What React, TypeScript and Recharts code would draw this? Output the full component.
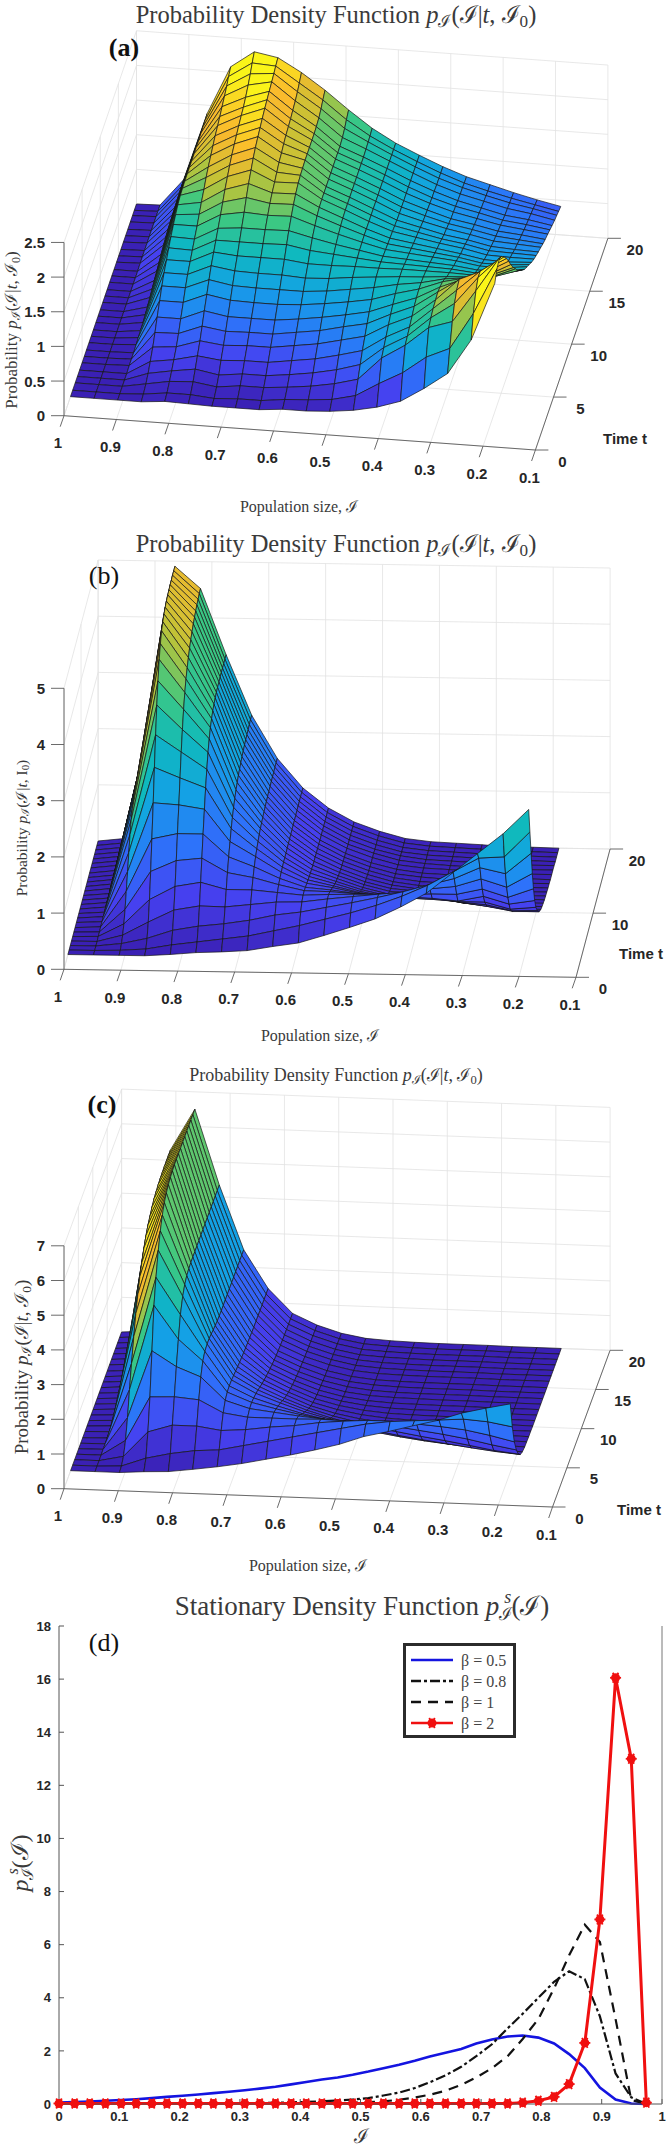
import React from "react";
import { ScatterChart, Scatter, LineChart, Line, XAxis, YAxis, Legend } from "recharts";

// population grid shared by the three surfaces, time grids
const popSizes = [1, 0.955, 0.91, 0.865, 0.82, 0.775, 0.73, 0.685, 0.64, 0.595, 0.55, 0.505, 0.46, 0.415, 0.37, 0.325, 0.28, 0.235, 0.19];
const timesA = [1.8, 2.4, 3.1, 3.7, 4.3, 5, 5.6, 6.2, 6.9, 7.5, 8.1, 8.8, 9.4, 10, 10.7, 11.3, 11.9, 12.6, 13.2, 13.8, 14.5, 15.1, 15.7, 16.4, 17, 17.6, 18.3, 18.9, 19.4, 20];
const timesB = [2.3, 3, 3.7, 4.4, 5.1, 5.8, 6.5, 7.3, 8, 8.7, 9.4, 10.1, 10.8, 11.5, 12.2, 12.9, 13.6, 14.3, 15, 15.8, 16.5, 17.2, 17.9, 18.6, 19.3, 20];

const iTicks = [1, 0.9, 0.8, 0.7, 0.6, 0.5, 0.4, 0.3, 0.2, 0.1];
const zTicksA = [0, 0.5, 1, 1.5, 2, 2.5];
const zTicksB = [0, 1, 2, 3, 4, 5];
const zTicksC = [0, 1, 2, 3, 4, 5, 6, 7];
const tTicksA = [0, 5, 10, 15, 20];
const tTicksB = [0, 10, 20];

// surface heights x100, one list per population column, front to back in time
const surfaceA = [
  [0,0,0,0,0,0,0,0,0,0,0,0,0,0,0,0,0,0,0,0,0,0,0,0,0,0,0,0,0,0],
  [0,0,0,0,0,0,0,0,0,0,0,0,0,0,0,0,0,0,0,0,1,1,1,1,1,1,1,1,1,1],
  [0,0,0,0,0,1,1,1,2,3,4,5,7,9,12,15,18,21,24,27,30,32,34,35,36,37,38,39,39,40],
  [0,2,6,12,20,30,42,55,68,80,90,98,106,113,120,125,130,133,134,135,135,135,135,135,135,135,136,136,137,138],
  [3,6,12,18,25,33,43,55,68,80,90,98,105,112,120,128,136,144,152,158,164,169,174,178,182,187,192,197,203,208],
  [2,6,14,23,33,44,56,69,82,94,105,114,122,130,139,148,157,165,172,178,183,187,191,195,198,203,210,217,225,232],
  [1,3,9,17,29,40,51,63,76,88,100,111,122,133,145,157,168,177,185,191,196,200,204,208,211,214,217,220,223,226],
  [1,5,13,21,31,42,52,63,75,87,99,111,122,133,143,151,157,162,167,172,175,179,182,184,186,189,192,196,201,207],
  [1,5,13,21,31,42,52,63,75,87,99,111,123,134,144,152,158,163,165,166,167,167,167,167,167,168,170,174,179,184],
  [4,9,16,25,36,47,57,67,77,87,97,107,117,126,133,138,141,142,142,142,142,142,142,142,142,142,144,148,153,158],
  [4,11,20,30,41,52,62,72,81,90,99,107,114,119,123,126,128,129,129,129,129,129,129,129,129,129,130,131,132,134],
  [6,14,26,37,49,60,70,78,86,95,103,108,111,113,114,115,115,115,115,115,115,115,115,115,115,115,115,115,115,115],
  [10,22,35,47,58,68,77,85,92,100,106,108,108,107,106,105,104,103,102,101,100,100,100,100,100,100,100,100,100,100],
  [17,42,68,74,80,87,93,98,103,107,109,109,107,105,103,101,99,97,95,93,91,90,89,88,87,87,86,86,86,86],
  [28,60,89,93,97,102,107,110,112,112,111,109,106,103,100,97,94,91,88,85,83,81,79,78,77,76,75,75,74,74],
  [49,85,117,122,126,128,130,128,125,120,114,109,105,101,97,93,89,86,83,80,77,75,73,71,70,68,67,66,65,65],
  [73,100,128,145,155,160,152,142,133,124,116,108,102,97,92,87,83,79,76,73,70,68,66,64,62,60,59,58,57,56],
  [124,153,175,185,185,175,163,150,139,128,119,111,104,98,92,87,82,78,75,71,68,65,63,60,58,56,54,52,50,48],
  [208,220,225,218,208,195,182,168,153,142,130,120,111,103,96,90,84,78,74,70,66,62,59,56,53,50,47,45,43,41],
];

const surfaceB = [
  [0,0,0,0,0,0,0,0,0,0,0,0,0,0,0,0,0,0,0,0,0,0,0,0,0,0],
  [0,0,0,0,1,1,2,2,3,3,4,4,4,4,5,5,5,5,5,5,5,5,5,5,5,5],
  [0,1,5,12,24,42,66,92,118,142,160,172,181,187,191,194,196,197,198,199,199,200,200,200,200,200],
  [0,4,15,36,68,110,160,215,270,320,365,400,430,450,465,473,479,483,486,488,489,490,490,491,491,491],
  [3,12,30,58,92,130,170,212,252,290,322,350,372,388,400,410,419,426,432,437,441,444,447,449,451,452],
  [7,18,38,66,100,135,170,205,235,260,282,298,310,318,324,328,331,333,334,334,335,335,335,335,335,335],
  [9,24,43,65,88,110,130,148,163,175,185,193,200,205,210,213,216,219,221,223,224,225,226,227,228,228],
  [12,30,50,70,88,102,113,122,128,133,137,140,142,144,146,147,148,149,150,150,151,151,151,152,152,152],
  [20,40,60,75,84,90,93,95,96,97,97,97,98,98,98,98,99,99,99,99,100,100,100,100,100,100],
  [27,50,66,76,80,80,78,76,74,72,70,69,68,67,67,66,66,66,65,65,65,65,65,65,65,65],
  [41,62,75,82,82,79,74,69,64,60,56,53,50,48,46,45,44,43,42,42,41,41,41,41,41,41],
  [56,74,84,87,83,76,68,60,53,47,42,38,35,32,30,29,28,27,26,26,26,25,25,25,25,25],
  [72,88,94,92,84,74,63,53,45,38,32,27,24,21,19,17,16,15,15,14,14,14,13,13,13,13],
  [94,105,105,96,84,72,62,52,44,40,34,27,21,17,13,11,10,10,9,9,9,8,8,8,8,8],
  [119,125,118,103,86,70,60,52,45,37,30,22,16,12,9,8,8,7,7,7,6,6,6,6,6,6],
  [155,150,130,108,86,66,57,47,38,30,21,15,11,8,6,5,5,5,4,4,4,4,4,4,4,4],
  [191,175,150,122,96,75,57,43,32,24,18,14,11,8,6,5,4,3,3,2,2,2,1,1,1,1],
  [227,178,140,108,82,62,45,33,24,18,13,10,7,6,4,3,3,2,2,1,1,1,1,1,1,1],
  [271,223,177,133,98,69,49,34,24,17,12,9,7,5,4,3,2,2,1,1,1,1,0,0,0,0],
];

const surfaceC = [
  [0,0,0,0,0,0,0,0,0,0,0,0,0,0,0,0,0,0,0,0,0,0,0,0,0,0],
  [0,0,0,0,1,1,2,2,3,3,3,4,4,4,4,5,5,5,5,5,5,5,5,5,5,5],
  [0,3,15,45,95,160,220,280,330,370,405,430,455,475,490,500,510,518,522,526,528,529,530,530,530,530],
  [5,28,88,173,290,405,470,530,570,600,620,632,640,645,648,650,650,650,650,650,650,650,650,650,650,650],
  [8,44,110,176,247,310,365,400,418,428,432,434,434,434,434,434,434,434,434,434,434,434,434,434,434,434],
  [17,55,110,170,220,250,262,265,265,262,258,255,252,251,250,250,250,250,250,250,250,250,250,250,250,250],
  [27,60,100,135,155,163,165,164,161,158,155,152,150,148,146,145,144,143,142,142,142,141,141,141,141,141],
  [39,75,105,125,134,136,133,128,122,115,109,103,98,93,89,85,82,79,77,75,74,73,73,72,72,72],
  [54,90,115,125,126,120,112,103,94,85,78,71,66,61,57,54,51,49,47,45,44,43,42,42,41,41],
  [69,105,122,125,118,106,93,80,69,59,50,44,39,35,32,30,28,26,25,24,23,22,21,21,20,20],
  [86,120,133,127,112,95,78,62,49,39,31,26,22,19,16,14,13,12,11,10,9,9,8,8,8,8],
  [105,135,140,125,104,82,62,46,33,24,18,14,11,9,7,6,5,5,4,4,4,4,4,4,4,4],
  [130,150,145,122,95,69,48,32,21,14,10,7,5,4,3,3,2,2,2,2,2,2,2,2,2,2],
  [147,160,145,115,84,57,37,23,14,9,6,4,3,2,2,2,1,1,1,1,1,1,1,1,1,1],
  [166,165,140,106,73,47,28,17,10,6,4,3,2,2,1,1,1,1,1,1,1,1,1,1,1,1],
  [184,170,135,97,63,38,21,12,7,4,3,2,2,1,1,1,1,1,1,1,1,1,1,1,1,1],
  [208,175,128,86,52,29,15,8,4,3,2,1,1,1,0,0,0,0,0,0,0,0,0,0,0,0],
  [225,170,115,72,40,21,10,5,3,2,1,1,0,0,0,0,0,0,0,0,0,0,0,0,0,0],
  [240,158,99,60,32,15,7,3,2,1,1,0,0,0,0,0,0,0,0,0,0,0,0,0,0,0],
];

// panel (d)
const popD = [0, 0.026, 0.051, 0.077, 0.103, 0.128, 0.154, 0.179, 0.205, 0.231, 0.256, 0.282, 0.308, 0.333, 0.359, 0.385, 0.41, 0.436, 0.462, 0.487, 0.513, 0.538, 0.564, 0.59, 0.615, 0.641, 0.667, 0.692, 0.718, 0.744, 0.769, 0.795, 0.821, 0.846, 0.872, 0.897, 0.923, 0.949, 0.974];
const beta05 = [0.05, 0.07, 0.09, 0.12, 0.15, 0.18, 0.22, 0.27, 0.31, 0.36, 0.41, 0.46, 0.52, 0.58, 0.65, 0.74, 0.83, 0.92, 1, 1.1, 1.22, 1.35, 1.48, 1.63, 1.79, 1.93, 2.07, 2.28, 2.43, 2.54, 2.58, 2.5, 2.28, 1.88, 1.35, 0.62, 0.17, 0.02, 0];
const beta08 = [0, 0.01, 0.01, 0.01, 0.01, 0.02, 0.02, 0.02, 0.02, 0.02, 0.02, 0.03, 0.03, 0.04, 0.05, 0.06, 0.08, 0.1, 0.13, 0.17, 0.22, 0.32, 0.43, 0.6, 0.82, 1.08, 1.4, 1.8, 2.25, 2.85, 3.4, 4, 4.6, 5, 4.7, 3.3, 1.15, 0.25, 0];
const beta1 = [0, 0, 0, 0, 0, 0, 0, 0, 0, 0, 0.01, 0.01, 0.01, 0.01, 0.01, 0.02, 0.02, 0.02, 0.03, 0.05, 0.07, 0.1, 0.16, 0.24, 0.35, 0.5, 0.72, 1, 1.35, 1.8, 2.45, 3.2, 4.35, 5.6, 6.75, 6.1, 3.2, 0.15, 0];
const beta2 = [0.02, 0.02, 0.02, 0.02, 0.02, 0.02, 0.02, 0.02, 0.02, 0.02, 0.02, 0.02, 0.02, 0.02, 0.02, 0.02, 0.02, 0.02, 0.02, 0.02, 0.02, 0.02, 0.02, 0.02, 0.02, 0.02, 0.02, 0.02, 0.02, 0.02, 0.05, 0.12, 0.27, 0.75, 2.3, 6.95, 16.05, 13, 0.05];
const xTicksD = [0, 0.1, 0.2, 0.3, 0.4, 0.5, 0.6, 0.7, 0.8, 0.9, 1];
const yTicksD = [0, 2, 4, 6, 8, 10, 12, 14, 16, 18];

const parula = [[58, 32, 180], [70, 65, 240], [45, 115, 250], [20, 160, 230], [15, 185, 190], [60, 200, 130], [190, 195, 55], [250, 185, 45], [250, 245, 25]];

const SERIF = "'Liberation Serif', serif";
const SANS = "'Liberation Sans', sans-serif";
const INK = "#262626";

type View = { ox: number; oy: number; ux: number; uy: number; vx: number; vy: number; zs: number };

function project(view: View, pop: number, t: number, z: number) {
  const u = (1 - pop) / 0.9;
  const v = t / 20;
  return {
    x: view.ox + u * view.ux + v * view.vx,
    y: view.oy + u * view.uy + v * view.vy - z * view.zs,
  };
}

function colorFor(z: number, max: number) {
  const s = Math.min(1, Math.max(0, z / max)) * (parula.length - 1);
  const a = Math.floor(s);
  const b = Math.min(parula.length - 1, a + 1);
  const c = parula[a].map((p, k) => Math.round(p + (parula[b][k] - p) * (s - a)));
  return `rgb(${c[0]},${c[1]},${c[2]})`;
}

// back rows first, left to right, so nearer faces paint over farther ones
function buildFaces(view: View, surface: number[][], times: number[], max: number) {
  const faces: any[] = [];
  for (let i = times.length - 2; i >= 0; i--) {
    for (let j = 0; j < popSizes.length - 1; j++) {
      const corners = [[i, j], [i, j + 1], [i + 1, j + 1], [i + 1, j]].map(([r, c]) =>
        project(view, popSizes[c], times[r], surface[c][r] / 100)
      );
      faces.push({
        sx: corners[0].x,
        sy: corners[0].y,
        offsets: corners.map((p) => `${p.x - corners[0].x},${p.y - corners[0].y}`),
        fill: colorFor(surface[j + 1][i] / 100, max),
      });
    }
  }
  return faces;
}

function seg(view: View, a: number[], b: number[]) {
  const p = project(view, a[0], a[1], a[2]);
  const q = project(view, b[0], b[1], b[2]);
  return { sx: p.x, sy: p.y, dx: q.x - p.x, dy: q.y - p.y };
}

function buildGrid(view: View, zTicks: number[], tTicks: number[]) {
  const top = zTicks[zTicks.length - 1];
  const out: any[] = [];
  iTicks.forEach((p) => {
    out.push(seg(view, [p, 0, 0], [p, 20, 0]));
    out.push(seg(view, [p, 20, 0], [p, 20, top]));
  });
  tTicks.forEach((t) => {
    out.push(seg(view, [1, t, 0], [0.1, t, 0]));
    out.push(seg(view, [1, t, 0], [1, t, top]));
  });
  zTicks.forEach((z) => {
    out.push(seg(view, [1, 0, z], [1, 20, z]));
    out.push(seg(view, [1, 20, z], [0.1, 20, z]));
  });
  return out;
}

function buildAxes(view: View, zTicks: number[], tTicks: number[]) {
  const out: any[] = [seg(view, [1, 0, 0], [0.1, 0, 0]), seg(view, [0.1, 0, 0], [0.1, 20, 0]), seg(view, [1, 0, 0], [1, 0, zTicks[zTicks.length - 1]])];
  iTicks.forEach((p) => {
    const a = project(view, p, 0, 0);
    out.push({ sx: a.x, sy: a.y, dx: -3.8, dy: 11 });
  });
  zTicks.forEach((z) => {
    const a = project(view, 1, 0, z);
    out.push({ sx: a.x, sy: a.y, dx: -13, dy: 0 });
  });
  tTicks.forEach((t) => {
    const a = project(view, 0.1, t, 0);
    out.push({ sx: a.x, sy: a.y, dx: 13, dy: 0 });
  });
  return out;
}

function buildTickLabels(view: View, zTicks: number[], tTicks: number[]) {
  const out: any[] = [];
  iTicks.forEach((p) => {
    const a = project(view, p, 0, 0);
    out.push({ sx: a.x - 6, sy: a.y + 27, content: String(p), anchor: "middle" });
  });
  zTicks.forEach((z) => {
    const a = project(view, 1, 0, z);
    out.push({ sx: a.x - 19, sy: a.y, content: String(z), anchor: "end" });
  });
  tTicks.forEach((t) => {
    const a = project(view, 0.1, t, 0);
    out.push({ sx: a.x + 27, sy: a.y + 11, content: String(t), anchor: "middle" });
  });
  return out;
}

const FaceShape = (props: any) => {
  const { cx, cy, payload } = props;
  const pts = payload.offsets.map((o: string) => {
    const [dx, dy] = o.split(",").map(Number);
    return `${cx + dx},${cy + dy}`;
  });
  return <polygon points={pts.join(" ")} fill={payload.fill} stroke="#161616" strokeWidth={0.7} strokeLinejoin="round" />;
};

const gridLine = (props: any) => {
  const { cx, cy, payload } = props;
  return <line x1={cx} y1={cy} x2={cx + payload.dx} y2={cy + payload.dy} stroke="#e2e2e2" strokeWidth={0.8} />;
};

const axisLine = (props: any) => {
  const { cx, cy, payload } = props;
  return <line x1={cx} y1={cy} x2={cx + payload.dx} y2={cy + payload.dy} stroke="#5a5a5a" strokeWidth={0.9} />;
};

const tickText = (props: any) => {
  const { cx, cy, payload } = props;
  return (
    <text x={cx} y={cy} textAnchor={payload.anchor} dominantBaseline="central" fontFamily={SANS} fontWeight={700} fontSize={15} fill={INK}>
      {payload.content}
    </text>
  );
};

const noteText = (props: any) => {
  const { cx, cy, payload } = props;
  return (
    <text
      x={cx}
      y={cy}
      textAnchor="middle"
      dominantBaseline="central"
      fontFamily={payload.family || SERIF}
      fontWeight={payload.weight || 400}
      fontSize={payload.size}
      fill={payload.color || "#3a3a3a"}
      transform={payload.rotate ? `rotate(${payload.rotate} ${cx} ${cy})` : undefined}
    >
      {payload.content}
    </text>
  );
};

function pdfText(size: number, zero = "ℐ") {
  const d = size * 0.28;
  return (
    <>
      <tspan fontStyle="italic">p</tspan>
      <tspan fontSize={size * 0.7} dy={d}>ℐ</tspan>
      <tspan dy={-d}>(ℐ|</tspan>
      <tspan fontStyle="italic">t</tspan>
      <tspan>, {zero}</tspan>
      <tspan fontSize={size * 0.7} dy={d}>0</tspan>
      <tspan dy={-d}>)</tspan>
    </>
  );
}

function Panel({ top, height, view, surface, times, max, zTicks, tTicks, notes }: any) {
  const faces = buildFaces(view, surface, times, max);
  return (
    <div style={{ position: "absolute", left: 0, top, width: 666, height }}>
      <ScatterChart width={666} height={height} margin={{ top: 0, right: 0, bottom: 0, left: 0 }}>
        <XAxis type="number" dataKey="sx" domain={[0, 666]} hide allowDataOverflow />
        <YAxis type="number" dataKey="sy" domain={[0, height]} reversed hide allowDataOverflow />
        <Scatter data={buildGrid(view, zTicks, tTicks)} shape={gridLine} isAnimationActive={false} />
        <Scatter data={buildAxes(view, zTicks, tTicks)} shape={axisLine} isAnimationActive={false} />
        <Scatter data={faces} shape={FaceShape} isAnimationActive={false} />
        <Scatter data={buildTickLabels(view, zTicks, tTicks)} shape={tickText} isAnimationActive={false} />
        <Scatter data={notes} shape={noteText} isAnimationActive={false} />
      </ScatterChart>
    </div>
  );
}

const viewA: View = { ox: 64, oy: 415.7, ux: 471.4, uy: 34.3, vx: 72.5, vy: -211.7, zs: 69.3 };
const viewB: View = { ox: 64, oy: 449.3, ux: 512, uy: 8, vx: 34.1, vy: -128.3, zs: 56.2 };
const viewC: View = { ox: 64, oy: 458.7, ux: 488.5, uy: 18.3, vx: 57.6, vy: -156.7, zs: 34.7 };

const notesA = [
  { sx: 336, sy: 14, size: 24.5, content: <>Probability Density Function {pdfText(24.5)}</> },
  { sx: 124, sy: 47, size: 26, weight: 700, color: "#111", content: "(a)" },
  { sx: 299, sy: 506, size: 16, content: "Population size, ℐ" },
  { sx: 625, sy: 438, size: 15, family: SANS, weight: 700, color: INK, content: "Time t" },
  { sx: 11, sy: 330, size: 17, rotate: -90, content: <>Probability {pdfText(17)}</> },
];
const notesB = [
  { sx: 336, sy: 23, size: 24.5, content: <>Probability Density Function {pdfText(24.5)}</> },
  { sx: 104, sy: 55, size: 26, color: "#111", content: "(b)" },
  { sx: 320, sy: 515, size: 16, content: "Population size, ℐ" },
  { sx: 641, sy: 433, size: 15, family: SANS, weight: 700, color: INK, content: "Time t" },
  { sx: 21, sy: 308, size: 15.5, rotate: -90, content: <>Probability {pdfText(15.5, "I")}</> },
];
const notesC = [
  { sx: 336, sy: 45, size: 18, content: <>Probability Density Function {pdfText(18)}</> },
  { sx: 102, sy: 74, size: 26, weight: 700, color: "#111", content: "(c)" },
  { sx: 308, sy: 535, size: 16, content: "Population size, ℐ" },
  { sx: 639, sy: 479, size: 15, family: SANS, weight: 700, color: INK, content: "Time t" },
  { sx: 21, sy: 337, size: 19, rotate: -90, content: <>Probability {pdfText(19)}</> },
];

const lineRows = popD.map((pop, k) => ({ pop, b05: beta05[k], b08: beta08[k], b1: beta1[k], b2: beta2[k] }));

const StarDot = (props: any) => {
  const { cx, cy } = props;
  return (
    <g key={`${cx}`} stroke="#f01010" strokeWidth={1.8} fill="#f01010">
      <circle cx={cx} cy={cy} r={3.6} />
      <line x1={cx - 5.5} y1={cy} x2={cx + 5.5} y2={cy} />
      <line x1={cx - 2.8} y1={cy - 5} x2={cx + 2.8} y2={cy + 5} />
      <line x1={cx + 2.8} y1={cy - 5} x2={cx - 2.8} y2={cy + 5} />
    </g>
  );
};

const legendRows = [
  { label: "β = 0.5", stroke: "#1414e0", dash: undefined, star: false },
  { label: "β = 0.8", stroke: "#111", dash: "10 3 3 3", star: false },
  { label: "β = 1", stroke: "#111", dash: "10 7", star: false },
  { label: "β = 2", stroke: "#f01010", dash: undefined, star: true },
];

const LegendBox = () => (
  <div style={{ width: 107, height: 85, border: "3px solid #2b2b2b", background: "#fff", paddingTop: 4, boxSizing: "content-box" }}>
    {legendRows.map((r) => (
      <div key={r.label} style={{ display: "flex", alignItems: "center", height: 21, fontFamily: SERIF, fontSize: 16, color: "#444" }}>
        <svg width={50} height={21} style={{ flex: "none", marginLeft: 5 }}>
          <line x1={0} y1={10} x2={42} y2={10} stroke={r.stroke} strokeWidth={2.6} strokeDasharray={r.dash} />
          {r.star ? <StarDot cx={21} cy={10} /> : null}
        </svg>
        <span style={{ whiteSpace: "nowrap" }}>{r.label}</span>
      </div>
    ))}
  </div>
);

function PanelD() {
  return (
    <div style={{ position: "absolute", left: 0, top: 1550, width: 666, height: 600 }}>
      <LineChart width={666} height={600} data={lineRows} margin={{ top: 76, right: 3, bottom: 0, left: 0 }}>
        <XAxis
          type="number"
          dataKey="pop"
          domain={[0, 1]}
          ticks={xTicksD}
          interval={0}
          height={46}
          stroke="#555"
          tickSize={-5}
          tickMargin={13}
          tick={{ fontFamily: SANS, fontWeight: 700, fontSize: 13, fill: INK }}
        />
        <XAxis xAxisId="top" orientation="top" type="number" domain={[0, 1]} ticks={xTicksD} interval={0} height={0} stroke="#777" tickSize={-5} tick={false} />
        <YAxis
          type="number"
          domain={[0, 18]}
          ticks={yTicksD}
          interval={0}
          width={59}
          stroke="#555"
          tickSize={-5}
          tickMargin={13}
          tick={{ fontFamily: SANS, fontWeight: 700, fontSize: 13, fill: INK }}
        />
        <YAxis yAxisId="right" orientation="right" type="number" domain={[0, 18]} ticks={yTicksD} interval={0} width={1} stroke="#777" tickSize={-5} tick={false} />
        <Line type="linear" dataKey="b05" stroke="#1414e0" strokeWidth={2.6} dot={false} isAnimationActive={false} />
        <Line type="linear" dataKey="b08" stroke="#111" strokeWidth={2.2} strokeDasharray="10 3 3 3" dot={false} isAnimationActive={false} />
        <Line type="linear" dataKey="b1" stroke="#111" strokeWidth={2.2} strokeDasharray="10 7" dot={false} isAnimationActive={false} />
        <Line type="linear" dataKey="b2" stroke="#f01010" strokeWidth={3} dot={<StarDot />} isAnimationActive={false} />
        <Legend layout="horizontal" align="center" verticalAlign="middle" content={<LegendBox />} wrapperStyle={{ position: "absolute", left: 403, top: 93, width: 113, bottom: "auto" }} />
        <text x={362} y={56} textAnchor="middle" dominantBaseline="central" fontFamily={SERIF} fontSize={27} fill="#3a3a3a">
          Stationary Density Function <tspan fontStyle="italic">p</tspan>
          <tspan fontSize={18} dy={8}>ℐ</tspan>
          <tspan fontSize={18} dy={-17} dx={-8} fontStyle="italic">s</tspan>
          <tspan dy={9}>(ℐ)</tspan>
        </text>
        <text x={104} y={92} textAnchor="middle" dominantBaseline="central" fontFamily={SERIF} fontSize={26} fill="#111">(d)</text>
        <text x={361} y={586} textAnchor="middle" dominantBaseline="central" fontFamily={SERIF} fontSize={20} fill="#3a3a3a">ℐ</text>
        <text x={20} y={313} textAnchor="middle" dominantBaseline="central" fontFamily={SERIF} fontSize={24} fill="#3a3a3a" transform="rotate(-90 20 313)">
          <tspan fontStyle="italic">p</tspan>
          <tspan fontSize={16} dy={7}>ℐ</tspan>
          <tspan fontSize={16} dy={-15} dx={-7} fontStyle="italic">s</tspan>
          <tspan dy={8}>(ℐ)</tspan>
        </text>
      </LineChart>
    </div>
  );
}

export default function App() {
  return (
    <div style={{ position: "absolute", left: 0, top: 0, width: 666, height: 2150, overflow: "hidden", background: "#fff" }}>
      <Panel top={0} height={530} view={viewA} surface={surfaceA} times={timesA} max={2.15} zTicks={zTicksA} tTicks={tTicksA} notes={notesA} />
      <Panel top={520} height={530} view={viewB} surface={surfaceB} times={timesB} max={5.4} zTicks={zTicksB} tTicks={tTicksB} notes={notesB} />
      <Panel top={1030} height={555} view={viewC} surface={surfaceC} times={timesB} max={6.6} zTicks={zTicksC} tTicks={tTicksA} notes={notesC} />
      <PanelD />
    </div>
  );
}
